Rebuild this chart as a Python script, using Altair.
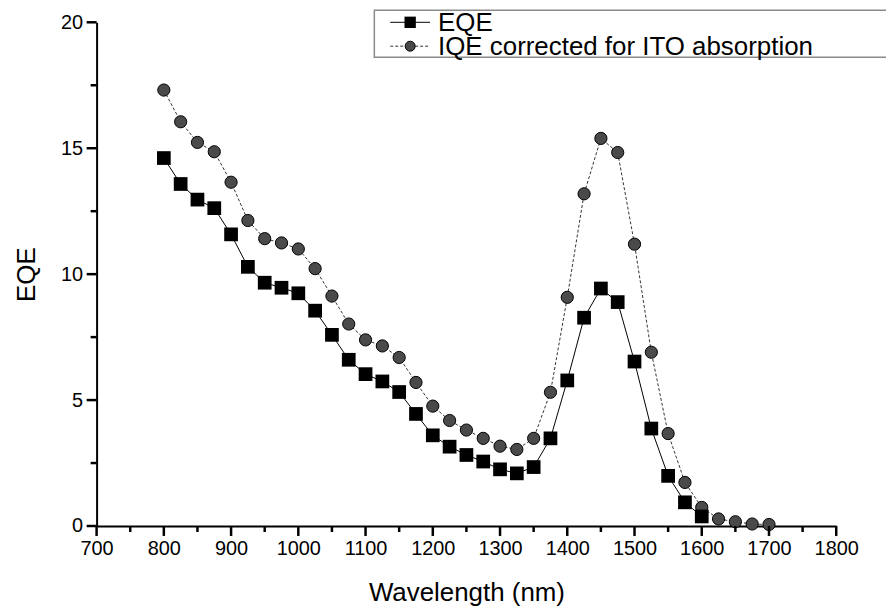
import altair as alt
import pandas as pd

# ---- data ----
wl_eqe = [800, 825, 850, 875, 900, 925, 950, 975, 1000, 1025, 1050, 1075, 1100,
          1125, 1150, 1175, 1200, 1225, 1250, 1275, 1300, 1325, 1350, 1375, 1400,
          1425, 1450, 1475, 1500, 1525, 1550, 1575, 1600]
eqe = [14.61, 13.58, 12.96, 12.62, 11.58, 10.29, 9.66, 9.46, 9.24, 8.55, 7.59, 6.6, 6.03,
       5.74, 5.32, 4.45, 3.6, 3.15, 2.82, 2.56, 2.25, 2.09, 2.34, 3.48, 5.78,
       8.27, 9.43, 8.89, 6.53, 3.87, 1.99, 0.94, 0.38]

wl_iqe = [800, 825, 850, 875, 900, 925, 950, 975, 1000, 1025, 1050, 1075, 1100,
          1125, 1150, 1175, 1200, 1225, 1250, 1275, 1300, 1325, 1350, 1375, 1400,
          1425, 1450, 1475, 1500, 1525, 1550, 1575, 1600, 1625, 1650, 1675, 1700]
iqe = [17.31, 16.05, 15.23, 14.86, 13.65, 12.13, 11.41, 11.24, 11.0, 10.22, 9.13, 8.02, 7.39,
       7.15, 6.69, 5.7, 4.76, 4.19, 3.81, 3.48, 3.17, 3.04, 3.48, 5.31, 9.08,
       13.19, 15.39, 14.83, 11.19, 6.9, 3.67, 1.73, 0.74, 0.28, 0.17, 0.08, 0.06]

x_major = list(range(700, 1801, 100))
x_minor = list(range(750, 1800, 100))
y_major = [0, 5, 10, 15, 20]
y_minor = [2.5, 7.5, 12.5, 17.5]

series_names = ["EQE", "IQE corrected for ITO absorption"]

eqe_df = pd.DataFrame({"wl": wl_eqe, "v": eqe})
iqe_df = pd.DataFrame({"wl": wl_iqe, "v": iqe})
xmajor_df = pd.DataFrame({"wl": x_major})
ymajor_df = pd.DataFrame({"v": y_major})
xminor_df = pd.DataFrame({"wl": x_minor})
yminor_df = pd.DataFrame({"v": y_minor})
one = pd.DataFrame({"k": [0]})

FONT = "Liberation Sans"
TICK = "#000000"

xscale = alt.Scale(domain=[700, 1800], nice=False, zero=False)
yscale = alt.Scale(domain=[0, 20], nice=False, zero=True)

xaxis = alt.Axis(
    values=x_major, format="d", labelFlush=False, ticks=False,
    title="Wavelength (nm)", grid=False,
    domainColor="#000000", domainWidth=2,
    labelFont=FONT, labelFontSize=20, labelColor="#000000", labelPadding=13,
    titleFont=FONT, titleFontSize=26, titleFontWeight="normal", titleColor="#000000",
    titlePadding=21,
)
yaxis = alt.Axis(
    values=y_major, labelFlush=False, ticks=False,
    title="EQE", grid=False,
    domainColor="#000000", domainWidth=2,
    labelFont=FONT, labelFontSize=20, labelColor="#000000", labelPadding=14,
    titleFont=FONT, titleFontSize=26, titleFontWeight="normal", titleColor="#000000",
    titlePadding=21,
)

x_enc = alt.X("wl:Q", scale=xscale, axis=xaxis)
y_enc = alt.Y("v:Q", scale=yscale, axis=yaxis)

# ticks drawn as rules at the tick values
xmaj = alt.Chart(xmajor_df).mark_rule(color=TICK, strokeWidth=2.5).encode(
    x=x_enc, y=alt.value(506), y2=alt.value(516))
ymaj = alt.Chart(ymajor_df).mark_rule(color=TICK, strokeWidth=2.5).encode(
    y=y_enc, x=alt.value(-10), x2=alt.value(0))
xmin = alt.Chart(xminor_df).mark_rule(color=TICK, strokeWidth=2.5).encode(
    x=x_enc, y=alt.value(506), y2=alt.value(512))
ymin = alt.Chart(yminor_df).mark_rule(color=TICK, strokeWidth=2.5).encode(
    y=y_enc, x=alt.value(-6), x2=alt.value(0))

iqe_line = alt.Chart(iqe_df).mark_line(color="#333333", strokeWidth=1, strokeDash=[3, 2]).encode(x=x_enc, y=y_enc)
iqe_pts = alt.Chart(iqe_df).mark_point(shape="circle", filled=True, size=150, fill="#4a4a4a",
                                       stroke="#000000", strokeWidth=1, opacity=1).encode(x=x_enc, y=y_enc)
eqe_line = alt.Chart(eqe_df).mark_line(color="#000000", strokeWidth=1).encode(x=x_enc, y=y_enc)
eqe_pts = alt.Chart(eqe_df).mark_point(shape="square", filled=True, size=190, color="#000000",
                                       opacity=1).encode(x=x_enc, y=y_enc)

# ---- manual legend (pixel positions relative to plot origin) ----
box = alt.Chart(one).mark_rect(fill="white", stroke="#8a8a8a", strokeWidth=1.5).encode(
    x=alt.value(279), x2=alt.value(830), y=alt.value(-12), y2=alt.value(35))
row1_y, row2_y = 0, 24
leg_line1 = alt.Chart(one).mark_rule(color="#000000", strokeWidth=1).encode(
    x=alt.value(295), x2=alt.value(335), y=alt.value(row1_y))
leg_pt1 = alt.Chart(one).mark_point(shape="square", filled=True, size=130, color="#000000", opacity=1).encode(
    x=alt.value(315), y=alt.value(row1_y))
leg_txt1 = alt.Chart(pd.DataFrame({"t": [series_names[0]]})).mark_text(
    align="left", baseline="middle", font=FONT, fontSize=26, color="#000000").encode(
    x=alt.value(343), y=alt.value(row1_y + 1), text="t:N")
leg_line2 = alt.Chart(one).mark_rule(color="#333333", strokeWidth=1, strokeDash=[3, 2]).encode(
    x=alt.value(295), x2=alt.value(335), y=alt.value(row2_y))
leg_pt2 = alt.Chart(one).mark_point(shape="circle", filled=True, size=100, fill="#4a4a4a",
                                    stroke="#000000", strokeWidth=1, opacity=1).encode(
    x=alt.value(315), y=alt.value(row2_y))
leg_txt2 = alt.Chart(pd.DataFrame({"t": [series_names[1]]})).mark_text(
    align="left", baseline="middle", font=FONT, fontSize=26, color="#000000").encode(
    x=alt.value(343), y=alt.value(row2_y + 1), text="t:N")

chart = alt.layer(
    iqe_line, iqe_pts, eqe_line, eqe_pts,
    xmaj, ymaj, xmin, ymin,
    box, leg_line1, leg_pt1, leg_txt1, leg_line2, leg_pt2, leg_txt2,
).properties(
    width=743, height=506,
    autosize=alt.AutoSizeParams(type="none"),
    padding={"left": 89, "top": 13, "right": 50, "bottom": 80},
    background="white",
).configure_view(stroke=None)

chart.save("out.html", embed_options={"renderer": "svg", "actions": False})
